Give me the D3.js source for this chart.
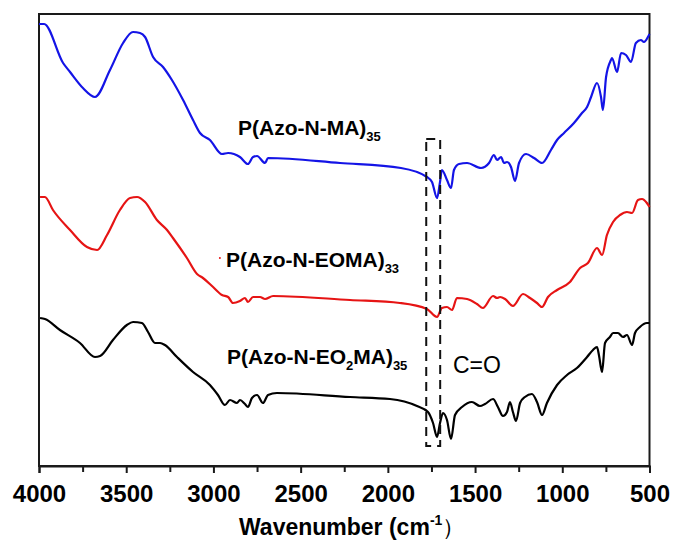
<!DOCTYPE html>
<html>
<head>
<meta charset="utf-8">
<script src="https://cdn.jsdelivr.net/npm/d3@7"></script>
<style>
  body { margin: 0; background: #fff; }
  svg text { font-family: "Liberation Sans", Arial, sans-serif; }
</style>
</head>
<body>
<svg id="chart" width="674" height="540"></svg>
<script>
/* FTIR spectra of the three azo polymers, offset vertically.
   x is wavenumber (cm-1, reversed), y is arbitrary transmittance units. */

const blueSpectrum = [
  [4000,442],[3971,442],[3862,403],[3822,394],[3748,378],[3679,369],[3593,396],[3518,423],
  [3461,434],[3421,433],[3392,429],[3346,409],[3289,399],[3238,386],[3174,366],[3117,346],
  [3077,333],[3020,326],[2951,312],[2916,313],[2848,309],[2802,302],[2773,309],[2750,310],
  [2704,303],[2687,308],[2274,303],[1925,298],[1776,289],[1747,284],[1718,268],[1701,284],
  [1690,296],[1661,286],[1638,278],[1621,296],[1592,302],[1546,303],[1466,298],[1420,303],
  [1392,311],[1374,306],[1351,309],[1334,303],[1317,304],[1294,299],[1271,285],[1248,303],
  [1208,312],[1162,308],[1116,303],[1065,316],[1030,326],[990,333],[933,343],[887,353],
  [858,359],[835,369],[801,383],[778,369],[767,356],[749,389],[721,406],[715,408],[686,394],
  [663,413],[635,411],[606,404],[578,423],[549,426],[532,424],[503,431],[500,432]
];

const redSpectrum = [
  [3994,269],[3966,269],[3920,256],[3822,236],[3725,219],[3667,216],[3610,231],[3536,256],
  [3478,268],[3438,269],[3392,264],[3324,246],[3266,236],[3232,228],[3152,208],[3094,192],
  [3060,188],[3002,179],[2951,171],[2916,169],[2888,163],[2848,165],[2819,168],[2802,164],
  [2773,169],[2733,169],[2704,167],[2658,170],[2217,166],[1931,163],[1776,157],[1718,149],
  [1690,158],[1661,159],[1632,156],[1604,168],[1546,167],[1489,162],[1455,158],[1397,170],
  [1374,168],[1357,169],[1328,167],[1283,160],[1225,172],[1185,168],[1145,163],[1116,159],
  [1082,169],[1030,176],[956,184],[898,198],[853,203],[801,218],[772,211],[744,231],
  [709,244],[669,251],[629,254],[600,253],[566,266],[543,267],[515,263],[500,259]
];

const blackSpectrum = [
  [3994,148],[3966,147],[3880,136],[3765,123],[3679,109],[3650,110],[3576,126],[3496,141],
  [3461,144],[3410,143],[3375,134],[3335,123],[3306,123],[3278,121],[3209,109],[3117,94],
  [3020,81],[2974,71],[2934,61],[2905,66],[2865,63],[2848,66],[2819,62],[2802,59],
  [2779,68],[2750,71],[2716,63],[2687,71],[2636,73],[2217,69],[1988,67],[1833,60],
  [1770,54],[1741,43],[1718,29],[1701,43],[1684,53],[1661,46],[1638,27],[1615,51],
  [1575,59],[1518,64],[1472,60],[1443,62],[1397,67],[1369,59],[1340,50],[1317,54],
  [1300,64],[1283,54],[1265,45],[1242,63],[1214,69],[1174,72],[1145,64],[1116,51],
  [1088,63],[1030,81],[973,91],[916,98],[858,109],[824,116],[801,119],[790,111],
  [772,94],[755,123],[727,129],[709,133],[681,133],[652,129],[629,131],[600,121],
  [583,133],[555,139],[515,143],[500,143]
];

const majorTicks = [4000, 3500, 3000, 2500, 2000, 1500, 1000, 500];
const minorTicks = [3750, 3250, 2750, 2250, 1750, 1250, 750];
const carbonylBand = [1780, 1700];     // dashed box, wavenumbers
const carbonylRange = [20, 327];       // dashed box, y units

const seriesNames = ["Azo-N-MA", "Azo-N-EOMA", "Azo-N-EO2MA"];
const seriesColors = ["#1414e6", "#e61414", "#000000"];

const margin = {left: 39, right: 24, top: 14, bottom: 74};
const width = 674, height = 540;

const svg = d3.select("#chart");
const x = d3.scaleLinear().domain([4000, 500]).range([margin.left, 649.5]);
const y = d3.scaleLinear().domain([0, 452]).range([height - margin.bottom, margin.top]);

// frame
svg.append("rect")
    .attr("x", x(4000)).attr("y", y(452))
    .attr("width", x(500) - x(4000)).attr("height", y(0) - y(452))
    .attr("fill", "none").attr("stroke", "#1a1a1a").attr("stroke-width", 2);

// spectra
const line = d3.line()
    .x(d => x(d[0]))
    .y(d => y(d[1]))
    .curve(d3.curveMonotoneX);

[blueSpectrum, redSpectrum, blackSpectrum].forEach((data, i) => {
    svg.append("path")
        .datum(data)
        .attr("class", "spectrum " + seriesNames[i])
        .attr("fill", "none")
        .attr("stroke", seriesColors[i])
        .attr("stroke-width", 2.2)
        .attr("stroke-linejoin", "round")
        .attr("d", line);
});

// C=O band box
svg.append("rect")
    .attr("x", x(carbonylBand[0])).attr("y", y(carbonylRange[1]))
    .attr("width", x(carbonylBand[1]) - x(carbonylBand[0]))
    .attr("height", y(carbonylRange[0]) - y(carbonylRange[1]))
    .attr("fill", "none").attr("stroke", "#111").attr("stroke-width", 2)
    .attr("stroke-dasharray", "9,6");

// x axis, major and minor ticks
const xAxis = svg.append("g")
    .attr("transform", `translate(0,${y(0)})`)
    .call(d3.axisBottom(x).tickValues(majorTicks).tickSize(7).tickFormat(d3.format("d")));
xAxis.select(".domain").attr("stroke", "#1a1a1a").attr("stroke-width", 2);
xAxis.selectAll(".tick line").attr("stroke", "#1a1a1a").attr("stroke-width", 2);
xAxis.selectAll("text")
    .attr("y", 36).attr("dy", 0)
    .attr("fill", "#000")
    .style("font-size", "24px").style("font-weight", "bold");

const minorAxis = svg.append("g")
    .attr("transform", `translate(0,${y(0)})`)
    .call(d3.axisBottom(x).tickValues(minorTicks).tickSize(6).tickFormat(""));
minorAxis.select(".domain").remove();
minorAxis.selectAll(".tick line").attr("stroke", "#1a1a1a").attr("stroke-width", 2);

// axis title
const title = svg.append("text")
    .attr("x", 239).attr("y", 535)
    .style("font-size", "23px").style("font-weight", "bold");
title.append("tspan").text("Wavenumber (cm");
title.append("tspan").attr("dy", -10).style("font-size", "14px").text("-1");
title.append("tspan").attr("dy", 10).style("font-weight", "normal").text("）");

// series labels
function label(xPos, yPos, parts) {
    const t = svg.append("text")
        .attr("x", xPos).attr("y", yPos)
        .style("font-size", "21px").style("font-weight", "bold");
    let shifted = false;
    for (const [str, sub] of parts) {
        const s = t.append("tspan").text(str);
        if (sub && !shifted) { s.attr("dy", 6).style("font-size", "13px"); shifted = true; }
        else if (!sub && shifted) { s.attr("dy", -6); shifted = false; }
    }
}
label(238, 135, [["P(Azo-N-MA)", false], ["35", true]]);
label(226, 267, [["P(Azo-N-EOMA)", false], ["33", true]]);
label(227, 364, [["P(Azo-N-EO", false], ["2", true], ["MA)", false], ["35", true]]);

svg.append("text")
    .attr("x", 453).attr("y", 373)
    .style("font-size", "23px")
    .text("C=O");

// stray red dot from the original figure
svg.append("circle")
    .attr("cx", x(2963)).attr("cy", y(208)).attr("r", 1)
    .attr("fill", "#e61414");
</script>
</body>
</html>
